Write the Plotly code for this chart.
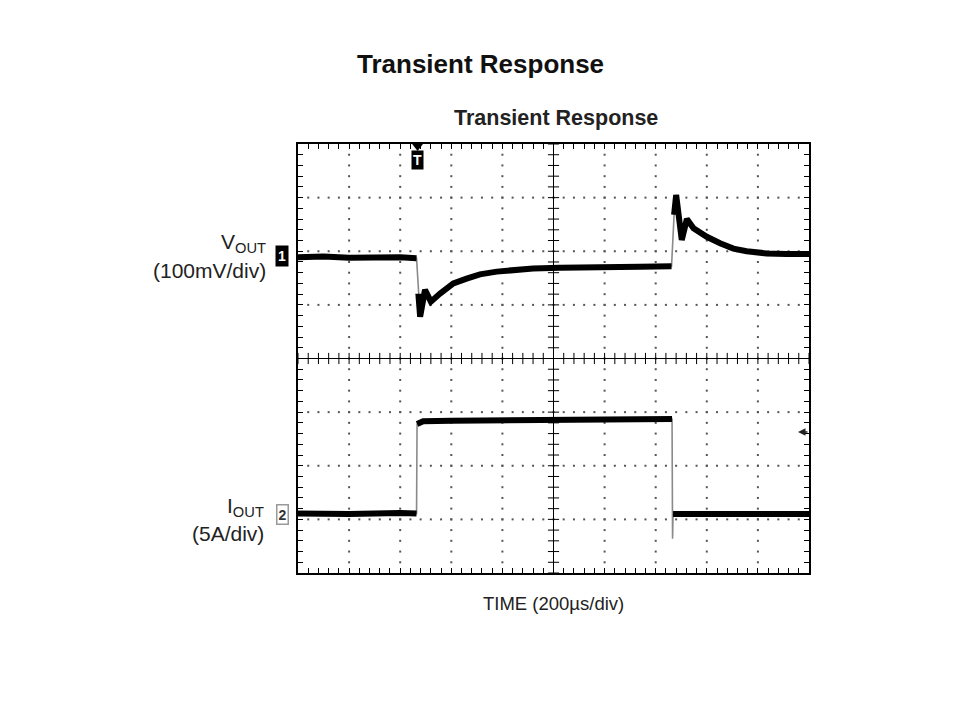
import numpy as np
import plotly.graph_objects as go

# ---- Data (x in divisions of 200 us, y in screen divisions, centre = 0) ----
vout_t = [0.0, 0.5, 1.0, 1.5, 2.0, 2.32, 2.355, 2.39, 2.485, 2.60, 2.78, 3.04, 3.30,
          3.56, 3.89, 4.21, 4.60, 5.13, 5.71, 6.69, 7.31, 7.36, 7.40, 7.51, 7.61,
          7.74, 8.00, 8.26, 8.52, 8.78, 9.17, 9.56, 10.0]
vout_v = [1.89, 1.90, 1.88, 1.89, 1.89, 1.87, 1.21, 0.78, 1.28, 1.06, 1.21, 1.40, 1.49,
          1.57, 1.62, 1.65, 1.68, 1.69, 1.69, 1.71, 1.72, 2.68, 3.05, 2.21, 2.60,
          2.43, 2.27, 2.15, 2.05, 2.00, 1.96, 1.95, 1.95]
vout_edges = [5, 20]          # segments i -> i+1 that are fast (thin grey) edges

iout_t = [0.0, 1.0, 2.0, 2.32, 2.33, 2.45, 3.0, 4.0, 5.0, 6.0, 7.0, 7.32, 7.33,
          7.34, 7.40, 8.0, 9.0, 10.0]
iout_v = [-2.89, -2.90, -2.88, -2.89, -1.22, -1.17, -1.16, -1.15, -1.15, -1.14, -1.13,
          -1.13, -3.36, -2.90, -2.90, -2.90, -2.91, -2.90]
iout_edges = [3, 11, 12]

vout_ref = 1.89
iout_ref = -2.89
trig_t = 2.32

# ---- geometry helpers (screen pixels of the graticule) ----
L, R, T, B = 298, 809, 144, 573
W, H = 960, 720
OFF = 8  # page body margin


def P(xp, yp):
    return (xp - L) / (R - L), (B - yp) / (B - T)


def black_segments(t, v, edges):
    xs, ys = [], []
    for i in range(len(t)):
        xs.append(t[i]); ys.append(v[i])
        if i in edges:
            xs.append(None); ys.append(None)
    return xs, ys


fig = go.Figure()

# dotted graticule
gx, gy = [], []
sub = np.round(np.arange(-4, 4.001, 0.2), 3)
subx = np.round(np.arange(0, 10.001, 0.2), 3)
for xv in [1, 2, 3, 4, 6, 7, 8, 9]:
    for yv in sub[1:-1]:
        gx.append(xv); gy.append(yv)
for yv in [-3, -2, -1, 1, 2, 3]:
    for xv in subx[1:-1]:
        gx.append(xv); gy.append(yv)
fig.add_trace(go.Scatter(x=gx, y=gy, mode="markers",
                         marker=dict(symbol="square", size=2, color="#555"),
                         hoverinfo="skip", showlegend=False))

# centre-line crossing ticks
fig.add_trace(go.Scatter(x=list(subx), y=[0] * len(subx), mode="markers",
                         marker=dict(symbol="line-ns", size=8,
                                     line=dict(color="black", width=1)),
                         hoverinfo="skip", showlegend=False))
fig.add_trace(go.Scatter(x=[5] * len(sub), y=list(sub), mode="markers",
                         marker=dict(symbol="line-ew", size=8,
                                     line=dict(color="black", width=1)),
                         hoverinfo="skip", showlegend=False))

# traces: thin grey full path, thick black for noisy flat parts
for t, v, e in [(vout_t, vout_v, vout_edges), (iout_t, iout_v, iout_edges)]:
    fig.add_trace(go.Scatter(x=t, y=v, mode="lines",
                             line=dict(color="#8a8a8a", width=1.6),
                             hoverinfo="skip", showlegend=False))
    bx, by = black_segments(t, v, e)
    fig.add_trace(go.Scatter(x=bx, y=by, mode="lines", connectgaps=False,
                             line=dict(color="black", width=6),
                             hoverinfo="skip", showlegend=False))

# channel / trigger markers outside the graticule
fig.add_trace(go.Scatter(x=[-0.15], y=[vout_ref], mode="markers", cliponaxis=False,
                         marker=dict(symbol="triangle-right", size=13, color="black"),
                         hoverinfo="skip", showlegend=False))
fig.add_trace(go.Scatter(x=[-0.13], y=[iout_ref], mode="markers", cliponaxis=False,
                         marker=dict(symbol="triangle-right-open", size=11, color="#888",
                                     line=dict(width=1.5)),
                         hoverinfo="skip", showlegend=False))
fig.add_trace(go.Scatter(x=[trig_t + 0.02], y=[3.97], mode="markers", cliponaxis=False,
                         marker=dict(symbol="triangle-down", size=11, color="black"),
                         hoverinfo="skip", showlegend=False))

shapes = [
    dict(type="line", xref="x", yref="y", x0=5, x1=5, y0=-4, y1=4,
         line=dict(color="black", width=1)),
    dict(type="line", xref="x", yref="y", x0=0, x1=10, y0=0, y1=0,
         line=dict(color="black", width=1)),
]

FONT = "Liberation Sans, Arial, sans-serif"
ann = []


def text(s, xp, yp, size, anchor="center", color="#111", **kw):
    x, y = P(xp, yp)
    ann.append(dict(text=s, x=x, y=y, xref="paper", yref="paper", xanchor=anchor,
                    yanchor="middle", showarrow=False,
                    font=dict(family=FONT, size=size, color=color), **kw))


text("<b>Transient Response</b>", 480, 64, 26)
text("<b>Transient Response</b>", 556, 118, 21.5, color="#222")
text("V<sub>OUT</sub>", 268, 243, 21, anchor="right", color="#222")
text("(100mV/div)", 268, 270, 21, anchor="right", color="#222")
text("I<sub>OUT</sub>", 266, 507, 21, anchor="right", color="#222")
text("(5A/div)", 266, 533, 21, anchor="right", color="#222")
text("TIME (200µs/div)", 553, 603, 18.5, color="#222")
text("<b>1</b>", 282, 256, 14, color="white", bgcolor="black", borderpad=2)
text("<b>2</b>", 282, 514, 14, color="#333", bgcolor="white", bordercolor="#999",
     borderwidth=1.5, borderpad=1)
text("<b>T</b>", 417.5, 160, 14, color="white", bgcolor="black", borderpad=1)

ax, ay = P(798, 432)
ann.append(dict(text="", x=ax, y=ay, xref="paper", yref="paper", showarrow=True,
                ax=11, ay=0, arrowhead=2, arrowsize=1, arrowwidth=1.5,
                arrowcolor="#222"))

axis_common = dict(showgrid=False, zeroline=False, showline=True, linewidth=2,
                   linecolor="black", mirror="allticks", ticks="inside", ticklen=5,
                   tickwidth=1, tickcolor="black", showticklabels=False,
                   fixedrange=True, tick0=0, dtick=0.2)

fig.update_layout(
    width=W, height=H,
    margin=dict(l=L - OFF, r=W - (R - OFF), t=T - OFF, b=H - (B - OFF)),
    paper_bgcolor="white", plot_bgcolor="white",
    xaxis=dict(range=[0, 10], **axis_common),
    yaxis=dict(range=[-4, 4], **axis_common),
    shapes=shapes, annotations=ann, showlegend=False,
)

fig.write_html("out.html")
